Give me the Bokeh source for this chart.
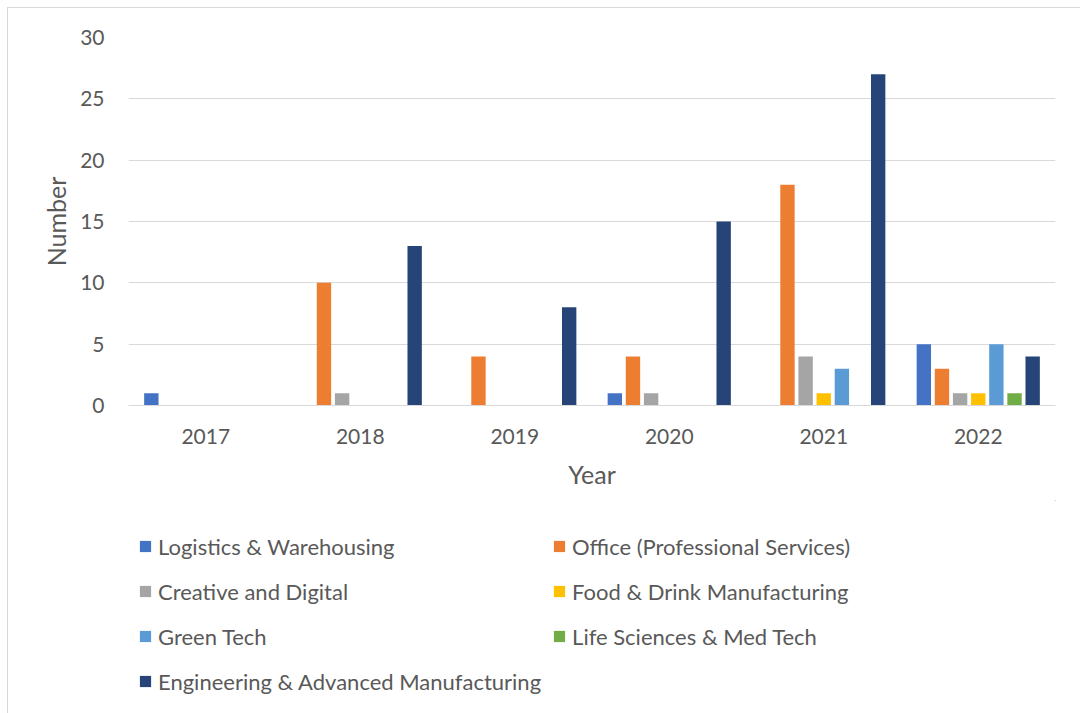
from bokeh.plotting import figure
from bokeh.layouts import column
from bokeh.models import ColumnDataSource, Legend, LegendItem, FactorRange, SingleIntervalTicker
from bokeh.transform import dodge
from bokeh.embed import file_html
from bokeh.resources import INLINE

years = ["2017", "2018", "2019", "2020", "2021", "2022"]
series_names = [
    "Logistics & Warehousing",
    "Office (Professional Services)",
    "Creative and Digital",
    "Food & Drink Manufacturing",
    "Green Tech",
    "Life Sciences & Med Tech",
    "Engineering & Advanced Manufacturing",
]
logistics = [1, 0, 0, 1, 0, 5]
office = [0, 10, 4, 4, 18, 3]
creative = [0, 1, 0, 1, 4, 1]
food = [0, 0, 0, 0, 1, 1]
green = [0, 0, 0, 0, 3, 5]
life = [0, 0, 0, 0, 0, 1]
engineering = [0, 13, 8, 15, 27, 4]
colors = ["#4472C4", "#ED7D31", "#A5A5A5", "#FFC000", "#5B9BD5", "#70AD47", "#264478"]

series_values = [logistics, office, creative, food, green, life, engineering]

FONT = "Lato"
TXT = "#595959"
GRID = "#d9d9d9"
W = 1072

src = ColumnDataSource(dict(year=years, **{f"s{i}": v for i, v in enumerate(series_values)}))

p = figure(
    x_range=FactorRange(*years, range_padding=0),
    y_range=(0, 30),
    width=W,
    height=492,
    output_backend="svg",
    toolbar_location=None,
    min_border_left=120,
    min_border_right=W + 8 - 1055,
    min_border_top=29,
    min_border_bottom=492 - 397,
)
p.outline_line_color = None
p.background_fill_color = "white"
p.border_fill_color = "white"

pitch = 0.1174
bw = 0.093
for i, (name, col) in enumerate(zip(series_names, colors)):
    p.vbar(
        x=dodge("year", (i - 3) * pitch, range=p.x_range),
        top=f"s{i}",
        width=bw,
        source=src,
        fill_color=col,
        line_color=None,
    )

p.yaxis.ticker = SingleIntervalTicker(interval=5)
p.ygrid.grid_line_color = GRID
p.ygrid.grid_line_width = 1
p.xgrid.grid_line_color = None

for ax in (p.xaxis[0], p.yaxis[0]):
    ax.axis_line_color = None
    ax.major_tick_line_color = None
    ax.minor_tick_line_color = None
    ax.major_label_text_font = FONT
    ax.major_label_text_font_size = "21px"
    ax.major_label_text_color = TXT
    ax.axis_label_text_font = FONT
    ax.axis_label_text_font_size = "25px"
    ax.axis_label_text_color = TXT
    ax.axis_label_text_font_style = "normal"

p.xaxis.axis_label = "Year"
p.yaxis.axis_label = "Number"
p.xaxis.major_label_standoff = 17
p.xaxis.axis_label_standoff = 12
p.yaxis.major_label_standoff = 18
p.yaxis.axis_label_standoff = 6
p.xaxis.axis_line_color = GRID

# legend panel below the chart
H2 = 213
p2 = figure(
    x_range=(0, 1), y_range=(0, 1),
    width=W, height=H2,
    output_backend="svg",
    toolbar_location=None,
    x_axis_location=None, y_axis_location=None,
    min_border=0,
)
p2.outline_line_color = None
p2.xgrid.visible = False
p2.ygrid.visible = False
p2.background_fill_color = "white"
p2.border_fill_color = "white"

# legend swatches: bars placed outside the visible range of this panel
renderers = []
for name, col in zip(series_names, colors):
    r = p2.vbar(x=[10], top=[10], bottom=[9], width=0.1, fill_color=col, line_color=None)
    renderers.append(r)

order = [0, 2, 4, 6, 1, 3, 5]
items = [LegendItem(label=series_names[i], renderers=[renderers[i]]) for i in order]

legend = Legend(
    items=items,
    ncols=2,
    location=(10, 15),
    orientation="vertical",
    border_line_color=None,
    background_fill_alpha=0,
    label_text_font=FONT,
    label_text_font_size="22px",
    label_text_color=TXT,
    glyph_width=14,
    glyph_height=14,
    label_standoff=6,
    label_height=34,
    spacing=11,
    padding=0,
    margin=0,
)
p2.add_layout(legend, "center")

layout = column(p, p2, spacing=0,
                styles={"border-left": "1px solid #d9d9d9", "border-top": "1px solid #d9d9d9",
                        "margin-left": "7px", "margin-top": "7px"})

open("out.html", "w").write(file_html(layout, INLINE))
